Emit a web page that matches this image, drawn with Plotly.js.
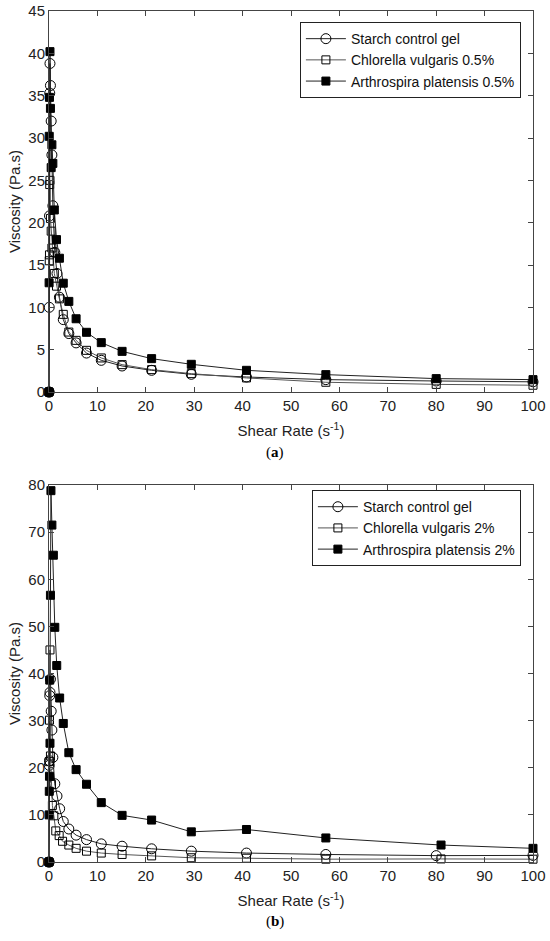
<!DOCTYPE html>
<html>
<head>
<meta charset="utf-8">
<script src="https://cdn.plot.ly/plotly-3.0.1.min.js"></script>
<style>html,body{margin:0;padding:0;background:#fff;}#chart{width:550px;height:941px;}</style>
</head>
<body>
<div id="chart"></div>
<script>
// ---------- Panel (a) data ----------
const aStarchX = [0,0.05,0.1,0.15,0.2,0.3,0.45,0.6,0.8,1.2,1.65,2.15,2.95,4.1,5.6,7.75,10.8,15.1,21.2,29.4,40.8,57.2,80,100];
const aStarchY = [0,10,20.8,35.3,38.8,36.2,32,28,22,16.5,14,11.2,8.55,6.9,5.8,4.6,3.74,3.07,2.56,2.09,1.77,1.46,1.3,1.2];
const aChlorX  = [0,0.05,0.1,0.15,0.2,0.3,0.45,0.6,0.8,1.1,1.55,2.15,2.95,4.1,5.6,7.75,10.8,15.1,21.2,29.4,40.8,57.2,80,100];
const aChlorY  = [0,15.5,16.2,24.5,25,20.5,19,17,16.5,14,12.5,11,9.17,7.08,6.1,4.92,4.02,3.23,2.64,2.17,1.66,1.15,0.9,0.8];
const aArthX   = [0,0.02,0.05,0.1,0.2,0.3,0.45,0.6,0.8,1.1,1.55,2.15,2.95,4.1,5.6,7.75,10.8,15.1,21.2,29.4,40.8,57.2,80,100];
const aArthY   = [0,12.9,30.2,34.8,40.2,33.5,26.5,29.2,27,21.5,18,15.8,12.85,10.7,8.65,7.05,5.83,4.8,3.94,3.27,2.56,2.05,1.58,1.46];

// ---------- Panel (b) data ----------
const bStarchX = [0,0.05,0.1,0.15,0.2,0.3,0.45,0.6,0.8,1.2,1.65,2.2,2.95,4.1,5.6,7.75,10.8,15.1,21.2,29.4,40.8,57.2,80,100];
const bStarchY = [0,20.5,21.5,35.3,36.0,38.8,32.0,28.0,22.2,16.6,14.0,11.3,8.6,7.0,5.7,4.75,3.85,3.35,2.8,2.3,1.9,1.6,1.35,1.4];
const bChlorX  = [0,0.05,0.1,0.2,0.3,0.5,0.7,1.0,1.4,2.1,2.8,4.1,5.6,7.75,10.8,15.1,21.2,29.4,40.8,57.2,81,100];
const bChlorY  = [0,21.3,30.1,45.0,22.5,16.5,12.0,9.8,6.6,5.6,4.4,3.6,2.9,2.3,1.9,1.6,1.3,0.9,0.8,0.6,0.65,0.6];
const bArthX   = [0,0.03,0.06,0.1,0.15,0.2,0.3,0.4,0.6,0.9,1.2,1.6,2.2,2.95,4.1,5.6,7.75,10.8,15.1,21.2,29.4,40.8,57.2,81,100];
const bArthY   = [0,10,15,18.2,38.6,25.2,56.6,78.8,71.5,65.1,49.8,41.7,34.8,29.4,23.2,19.6,16.5,12.6,9.9,8.9,6.4,6.9,5.1,3.6,2.9];

const originX = [0];
const originY = [0];

const namesA = ['Starch control gel','Chlorella vulgaris 0.5%','Arthrospira platensis 0.5%'];
const namesB = ['Starch control gel','Chlorella vulgaris 2%','Arthrospira platensis 2%'];
const xTicks = [0,10,20,30,40,50,60,70,80,90,100];
const yTicksA = [0,5,10,15,20,25,30,35,40,45];
const yTicksB = [0,10,20,30,40,50,60,70,80];

const FONT = 'Liberation Sans, Arial, sans-serif';
const lineC = '#222';

function tr(x, y, name, sym, size, lineColor, xa, ya, leg) {
  return {
    x: x, y: y, name: name, type: 'scatter', mode: 'lines+markers',
    xaxis: xa, yaxis: ya, legend: leg, cliponaxis: false,
    line: {color: lineColor, width: 1},
    marker: {symbol: sym, size: size, color: '#000', line: {color: '#000', width: 1}}
  };
}

const data = [
  tr(aStarchX, aStarchY, namesA[0], 'circle-open', 10, lineC, 'x', 'y', 'legend'),
  tr(aChlorX, aChlorY, namesA[1], 'square-open', 8, '#555', 'x', 'y', 'legend'),
  tr(aArthX, aArthY, namesA[2], 'square', 8, lineC, 'x', 'y', 'legend'),
  {x: originX, y: originY, type: 'scatter', mode: 'markers', xaxis: 'x', yaxis: 'y', showlegend: false, cliponaxis: false,
   marker: {symbol: 'circle', size: 11, color: '#000'}},
  tr(bStarchX, bStarchY, namesB[0], 'circle-open', 10, lineC, 'x2', 'y2', 'legend2'),
  tr(bChlorX, bChlorY, namesB[1], 'square-open', 8, '#555', 'x2', 'y2', 'legend2'),
  tr(bArthX, bArthY, namesB[2], 'square', 8, lineC, 'x2', 'y2', 'legend2'),
  {x: originX, y: originY, type: 'scatter', mode: 'markers', xaxis: 'x2', yaxis: 'y2', showlegend: false, cliponaxis: false,
   marker: {symbol: 'circle', size: 11, color: '#000'}}
];

function xax(anchor) {
  return {
    anchor: anchor, range: [0, 100], tickvals: xTicks, ticktext: xTicks.map(String),
    ticks: 'inside', ticklen: 5, tickcolor: '#444', showline: true, linecolor: '#444', linewidth: 1,
    mirror: 'ticks', showgrid: false, zeroline: false,
    tickfont: {family: FONT, size: 15, color: '#222'},
    title: {text: 'Shear Rate (s<sup>-1</sup>)', font: {family: FONT, size: 15, color: '#222'}, standoff: 12}
  };
}
function yax(anchor, dom, maxv, tv) {
  return {
    anchor: anchor, domain: dom, range: [0, maxv], tickvals: tv, ticktext: tv.map(String),
    ticks: 'inside', ticklen: 5, tickcolor: '#444', showline: true, linecolor: '#444', linewidth: 1,
    mirror: 'ticks', showgrid: false, zeroline: false,
    tickfont: {family: FONT, size: 15, color: '#222'},
    title: {text: 'Viscosity (Pa.s)', font: {family: FONT, size: 15, color: '#222'}, standoff: 4}
  };
}

const legStyle = (y) => ({
  x: 0.975, y: y, xanchor: 'right', yanchor: 'top',
  bgcolor: '#fff', bordercolor: '#222', borderwidth: 1,
  font: {family: FONT, size: 14, color: '#111'},
  tracegroupgap: 0, itemwidth: 40
});

const layout = {
  width: 550, height: 941,
  margin: {l: 49, r: 17, t: 11, b: 79},
  paper_bgcolor: '#fff', plot_bgcolor: '#fff',
  showlegend: true,
  xaxis: xax('y'),
  yaxis: yax('x', [0.5523, 1], 45, yTicksA),
  xaxis2: xax('y2'),
  yaxis2: yax('x2', [0, 0.443], 80, yTicksB),
  legend: legStyle(0.987),
  legend2: legStyle(0.437),
  annotations: [
    {text: '(<b>a</b>)', xref: 'paper', yref: 'paper', x: 0.467, y: 0.5523, yshift: -61, xanchor: 'center', yanchor: 'middle',
     showarrow: false, font: {family: 'Liberation Serif, Times New Roman, serif', size: 15, color: '#000'}},
    {text: '(<b>b</b>)', xref: 'paper', yref: 'paper', x: 0.467, y: 0, yshift: -59, xanchor: 'center', yanchor: 'middle',
     showarrow: false, font: {family: 'Liberation Serif, Times New Roman, serif', size: 15, color: '#000'}}
  ]
};

Plotly.newPlot('chart', data, layout, {displayModeBar: false, staticPlot: true});
</script>
</body>
</html>
